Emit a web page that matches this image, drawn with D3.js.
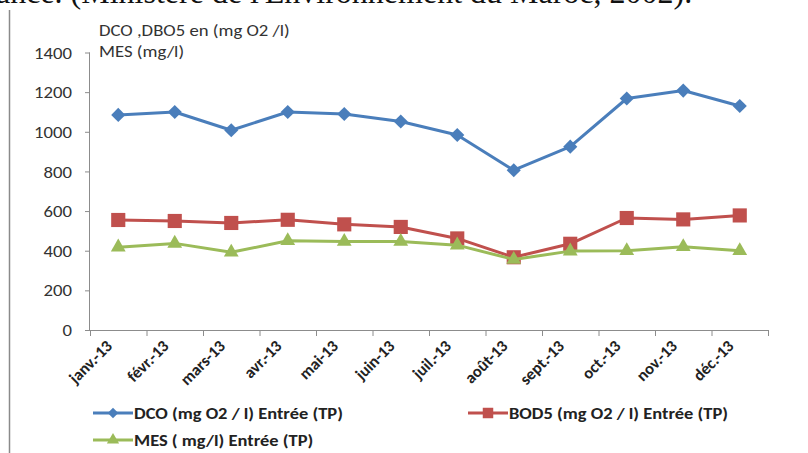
<!DOCTYPE html>
<html>
<head>
<meta charset="utf-8">
<script src="https://cdn.jsdelivr.net/npm/d3@7/dist/d3.min.js"></script>
<style>
  html, body { margin: 0; padding: 0; background: #fff; }
  svg { display: block; }
</style>
</head>
<body>
<svg id="chart" width="808" height="453"></svg>
<script>
// Monthly influent measurements, 2013
const months = ["janv.-13", "févr.-13", "mars-13", "avr.-13", "mai-13", "juin-13",
                "juil.-13", "août-13", "sept.-13", "oct.-13", "nov.-13", "déc.-13"];
const dco  = [1085, 1100, 1008, 1100, 1090, 1052, 984, 806, 925, 1168, 1208, 1130];
const bod5 = [555, 550, 540, 556, 533, 520, 462, 367, 435, 565, 558, 578];
const mes  = [418, 437, 392, 450, 446, 446, 428, 356, 398, 400, 420, 400];
const yTicks = [0, 200, 400, 600, 800, 1000, 1200, 1400];
const seriesNames = ["DCO (mg O2 / l) Entrée (TP)", "BOD5 (mg O2 / l) Entrée (TP)", "MES ( mg/l) Entrée (TP)"];

const svg = d3.select("#chart");
const font = "Carlito, Calibri, Lato, sans-serif";
const stretch = 1.17;       // horizontal stretch applied to axis texts
const legendStretch = 1.12; // horizontal stretch applied to legend texts

// Caption line clipped at the top of the frame
svg.append("text")
  .attr("x", -4).attr("y", 3)
  .attr("font-family", "'Liberation Serif', 'Times New Roman', serif")
  .attr("font-size", 32)
  .attr("fill", "#111")
  .text("ance. (Ministère de l'Environnement du Maroc, 2002).");

// Frame edge on the left
svg.append("line")
  .attr("x1", 9.5).attr("x2", 9.5).attr("y1", 10).attr("y2", 453)
  .attr("stroke", "#8a8a8a").attr("stroke-width", 1.5);

const x = d3.scaleBand().domain(months).range([90, 768]);
const y = d3.scaleLinear().domain([0, 1400]).range([330, 52.5]);

// Y axis
const yAxis = svg.append("g")
  .attr("transform", "translate(90,0)")
  .call(d3.axisLeft(y).tickValues(yTicks).tickSize(5).tickPadding(0).tickFormat(d3.format("d")));
yAxis.select(".domain").attr("stroke", "#8c8c8c").attr("d", `M-0.5,${y(1400)}V${y(0)}`);
yAxis.selectAll(".tick line").attr("stroke", "#8c8c8c");
yAxis.selectAll(".tick text")
  .attr("x", 0).attr("dy", "0.35em")
  .attr("transform", `translate(-18,0) scale(${stretch},1)`)
  .attr("font-family", font).attr("font-size", 16).attr("fill", "#333");

// X axis with ticks at band boundaries
const xg = svg.append("g").attr("transform", `translate(0,${y(0)})`);
xg.append("line")
  .attr("x1", 90).attr("x2", 768).attr("y1", 0.5).attr("y2", 0.5)
  .attr("stroke", "#8c8c8c");
const bounds = months.map(m => x(m)).concat([x.range()[1]]);
xg.selectAll("line.tk").data(bounds).join("line")
  .attr("class", "tk")
  .attr("x1", d => d + 0.5).attr("x2", d => d + 0.5)
  .attr("y1", 0).attr("y2", 6)
  .attr("stroke", "#8c8c8c");
xg.selectAll("text.lbl").data(months).join("text")
  .attr("class", "lbl")
  .attr("transform", d => `translate(${x(d) + x.bandwidth() / 2 - 5},${17}) rotate(-45)`)
  .attr("text-anchor", "end")
  .attr("font-family", font).attr("font-size", 16.5).attr("font-weight", "bold")
  .attr("fill", "#222")
  .text(d => d);

// Axis title
const title = svg.append("text")
  .attr("transform", `translate(99,0) scale(${stretch},1)`)
  .attr("font-family", font).attr("font-size", 16).attr("fill", "#333");
title.append("tspan").attr("x", 0).attr("y", 36).text("DCO ,DBO5 en (mg O2 /l)");
title.append("tspan").attr("x", 0).attr("y", 57).text("MES (mg/l)");

const colors = ["#4a7ebb", "#c0504d", "#9bbb59"];
const data = [dco, bod5, mes];
const cx = m => x(m) + x.bandwidth() / 2;

const symbols = [
  { gen: d3.symbol().type(d3.symbolSquare).size(100), rot: 45 },
  { gen: d3.symbol().type(d3.symbolSquare).size(200), rot: 0 },
  { gen: d3.symbol().type(d3.symbolTriangle).size(95), rot: 0 }
];

const line = d3.line().x((d, i) => cx(months[i])).y(d => y(d));

data.forEach((vals, s) => {
  svg.append("path")
    .datum(vals)
    .attr("d", line)
    .attr("fill", "none")
    .attr("stroke", colors[s])
    .attr("stroke-width", 3)
    .attr("stroke-linejoin", "round");
  svg.append("g").selectAll("path").data(vals).join("path")
    .attr("d", symbols[s].gen())
    .attr("transform", (d, i) => `translate(${cx(months[i])},${y(d)}) rotate(${symbols[s].rot})`)
    .attr("fill", colors[s]);
});

// Legend
const legendItems = [
  { x: 93, y: 413 },
  { x: 468, y: 413 },
  { x: 93, y: 440 }
];
const legendSymbols = [
  { gen: d3.symbol().type(d3.symbolSquare).size(55), rot: 45 },
  { gen: d3.symbol().type(d3.symbolSquare).size(110), rot: 0 },
  { gen: d3.symbol().type(d3.symbolTriangle).size(65), rot: 0 }
];
legendItems.forEach((p, s) => {
  const g = svg.append("g").attr("transform", `translate(${p.x},${p.y})`);
  g.append("line").attr("x1", 0).attr("x2", 40).attr("y1", 0).attr("y2", 0)
    .attr("stroke", colors[s]).attr("stroke-width", 3);
  g.append("path").attr("d", legendSymbols[s].gen())
    .attr("transform", `translate(20,0) rotate(${legendSymbols[s].rot})`)
    .attr("fill", colors[s]);
  g.append("text")
    .attr("transform", `translate(41,6) scale(${legendStretch},1)`)
    .attr("font-family", font).attr("font-size", 16.5).attr("font-weight", "bold")
    .attr("fill", "#222")
    .text(seriesNames[s]);
});
</script>
</body>
</html>
